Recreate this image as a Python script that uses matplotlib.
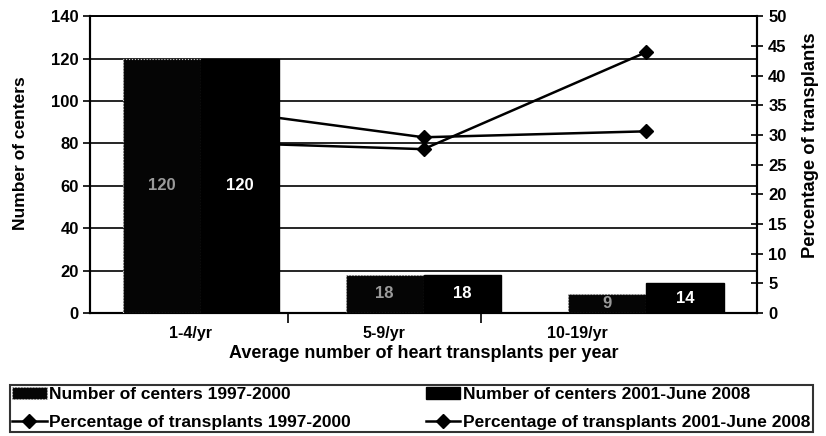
import numpy as np
import matplotlib
matplotlib.use("Agg")
import matplotlib.pyplot as plt

plt.rcParams['font.family'] = ['Liberation Sans', 'DejaVu Sans']
plt.rcParams['font.weight'] = 'bold'

# data
categories = ['1-4/yr', '5-9/yr', '10-19/yr']
centers_9700 = [120, 18, 9]
centers_0108 = [120, 18, 14]
pct_9700 = [34.6, 29.6, 30.6]
pct_0108 = [28.8, 27.6, 43.9]
left_ticks = [0, 20, 40, 60, 80, 100, 120, 140]
right_ticks = [0, 5, 10, 15, 20, 25, 30, 35, 40, 45, 50]

# the scanned tick labels sit a bit left of the bar groups
label_pos = [-0.05, 0.82, 1.69]
boundary_pos = [0.39, 1.26]

fig = plt.figure(figsize=(8.26, 4.36), dpi=100)
ax = fig.add_axes([0.109, 0.282, 0.8075, 0.681])
ax2 = ax.twinx()
# bars in front of the lines
ax.set_zorder(ax2.get_zorder() + 1)
ax.patch.set_visible(False)

x = np.arange(len(categories))
w = 0.35
b1 = ax.bar(x - w / 2, centers_9700, w, color='#050505', edgecolor='#cccccc',
            linestyle=':', linewidth=0.8, label='Number of centers 1997-2000', zorder=3)
b2 = ax.bar(x + w / 2, centers_0108, w, color='black', edgecolor='black',
            label='Number of centers 2001-June 2008', zorder=3)
ax.bar_label(b1, label_type='center', color='#9a9a9a', fontsize=12, fontweight='bold')
ax.bar_label(b2, label_type='center', color='white', fontsize=12, fontweight='bold')

l1, = ax2.plot(x, pct_9700, color='black', lw=1.8, marker='D', ms=7,
               label='Percentage of transplants 1997-2000')
l2, = ax2.plot(x, pct_0108, color='black', lw=1.8, marker='D', ms=7,
               label='Percentage of transplants 2001-June 2008')

ax.set_xlim(-0.5, 2.5)
ax.set_ylim(0, 140)
ax.set_yticks(left_ticks)
ax.yaxis.grid(True, color='black', lw=1.2)
ax.set_axisbelow(True)
ax2.set_ylim(0, 50)
ax2.set_yticks(right_ticks)

ax.set_xticks(label_pos)
ax.set_xticklabels(categories)
ax.set_xticks(boundary_pos, minor=True)
ax.tick_params(axis='x', which='major', length=0, pad=9, labelsize=11.5)
ax.tick_params(axis='x', which='minor', length=7, width=1.2, direction='out')
ax.tick_params(axis='y', length=5, width=1.2, labelsize=12, pad=3)
ax2.tick_params(axis='y', length=8, width=1.2, direction='inout', labelsize=12, pad=4)

for a in (ax, ax2):
    a.spines['top'].set_linewidth(1.2)
    a.spines['bottom'].set_linewidth(1.5)
    a.spines['left'].set_linewidth(1.5)
    a.spines['right'].set_linewidth(1.5)

ax.set_ylabel('Number of centers', fontsize=12.5, fontweight='bold')
ax.yaxis.set_label_coords(-0.093, 0.54)
ax2.set_ylabel('Percentage of transplants', fontsize=13.2, fontweight='bold')
ax2.yaxis.set_label_coords(1.067, 0.565)
ax.set_xlabel('Average number of heart transplants per year', fontsize=13,
              fontweight='bold', labelpad=3)

leg = fig.legend([b1, l1, b2, l2],
                 [b1.get_label(), l1.get_label(), b2.get_label(), l2.get_label()],
                 ncol=2, loc='upper left', bbox_to_anchor=(0.012, 1 - 385 / 436),
                 fontsize=12.5, frameon=True, fancybox=False,
                 borderpad=0.12, labelspacing=0.75, handlelength=2.0, handletextpad=0.15,
                 columnspacing=4.3, borderaxespad=0)
leg.get_frame().set_edgecolor('black')
leg.get_frame().set_linewidth(1.5)

fig.savefig('out.png', dpi=100)
